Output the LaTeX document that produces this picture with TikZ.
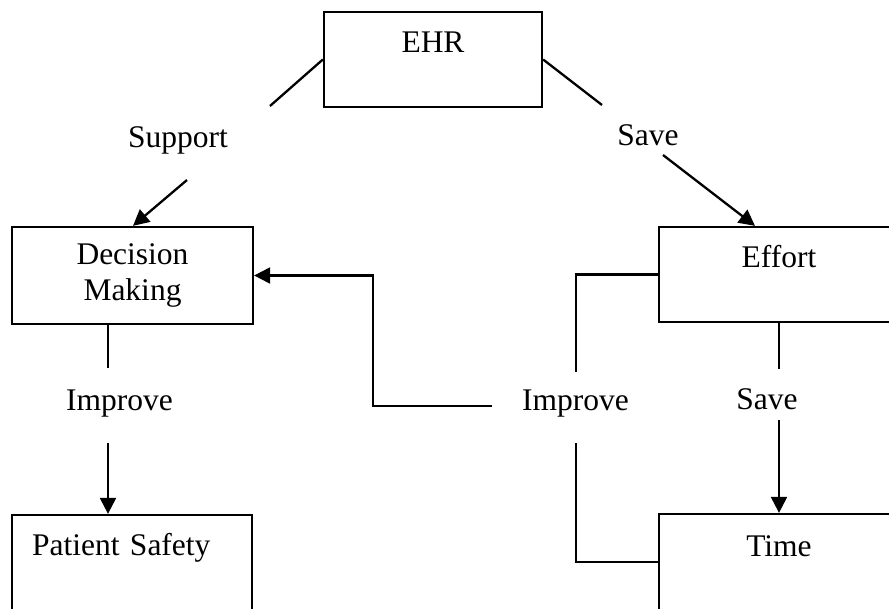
\documentclass[tikz,border=0pt]{standalone}
\usepackage{fontspec}
\setmainfont{Liberation Serif}
\usetikzlibrary{arrows.meta}
\begin{document}
\begin{tikzpicture}[x=1pt,y=-1pt,
  every node/.style={font=\fontsize{31.5}{36}\selectfont},
  box/.style={draw, line width=2.3pt, inner sep=0pt, text height=40pt, text depth=55pt, minimum width=240pt, anchor=base},
  lbl/.style={inner sep=0pt, anchor=base},
  conn/.style={line width=2.3pt},
  arr/.style={conn, -{Triangle[length=16pt,width=16pt]}}]
\fill[white] (0,0) rectangle (889,608);
\useasboundingbox (0,0) rectangle (889,608);
% boxes
\node[box, minimum width=218pt] (ehr) at (433,52) {EHR};
\node[draw, line width=2.3pt, inner sep=0pt, minimum width=241pt, minimum height=97pt, align=center] (dm) at (132.5,275.5) {Decision\\Making};
\node[box] (eff) at (779,267) {Effort};
\node[box, text height=42pt] (time) at (779,556) {Time};
\node[box, text width=200pt, inner xsep=20pt, align=left] (ps) at (132,555) {Patient Safety};
% labels
\node[lbl] (support) at (178,147) {Support};
\node[lbl] (save1) at (648,145) {Save};
\node[lbl] (imp1) at (119.5,410) {Improve};
\node[lbl] (imp2) at (575.5,410) {Improve};
\node[lbl] (save2) at (767,409) {Save};
% free ends
\coordinate (a1) at (270,106);
\coordinate (a2) at (187,180);
\coordinate (b1) at (602,105);
\coordinate (b2) at (663,155);
\coordinate (c1) at (108,368);
\coordinate (c2) at (108,443);
\coordinate (d1) at (492,406);
\coordinate (d2) at (373,406);
\coordinate (e1) at (576,372);
\coordinate (e2) at (576,443);
\coordinate (f1) at (779,369);
\coordinate (f2) at (779,420);
% connectors
\draw[conn] (ehr.west) -- (a1);
\draw[arr] (a2) -- ([xshift=0.5pt]dm.north);
\draw[conn] (ehr.east) -- (b1);
\draw[arr] (b2) -- ([xshift=-24pt]eff.north);
\draw[conn] ([xshift=-24.5pt]dm.south) -- (c1);
\draw[arr] (c2) -- ([xshift=-24pt]ps.north);
\draw[arr] (d1) -- (d2) |- (dm.east);
\draw[conn] (eff.west) -| (e1);
\draw[conn] (e2) |- ([yshift=-49pt]time.north west);
\draw[conn] (eff.south) -- (f1);
\draw[arr] (f2) -- (time.north);
\end{tikzpicture}
\end{document}
